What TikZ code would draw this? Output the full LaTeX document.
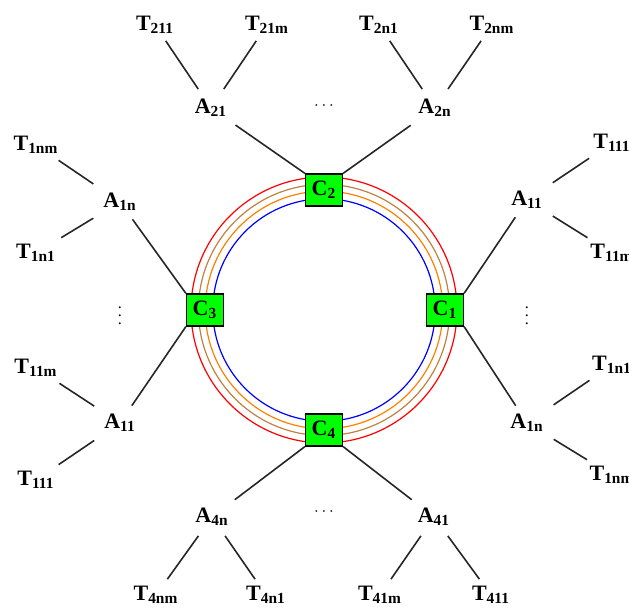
\documentclass[tikz,border=0pt]{standalone}
\usepackage{fontspec}
\setmainfont{Liberation Serif}
\usetikzlibrary{positioning}

\begin{document}
\begin{tikzpicture}[
  x=0.5pt, y=-0.5pt,
  font=\fontsize{11}{13}\selectfont\bfseries,
  ctrl/.style={draw=black, fill=green, minimum width=18.5pt, minimum height=16pt,
    inner sep=0pt, line width=0.6pt},
  agent/.style={inner sep=4pt},
  term/.style={inner sep=2.5pt},
  elide/.style={inner sep=0pt, font=\footnotesize\mdseries},
  link/.style={draw=black!85, line width=0.8pt},
  leaf/.style={draw=black!85, line width=0.8pt, shorten <=1pt, shorten >=1pt},
  ring/.style={line width=0.6pt}
]
\useasboundingbox (0,0) rectangle (629,608);

% --- the four rings round the hub ---
\coordinate (hub) at (324,310);
\draw[ring, red]    (hub) circle[radius=66.5pt];
\draw[ring, brown]  (hub) circle[radius=62.8pt];
\draw[ring, orange] (hub) circle[radius=59.4pt];
\draw[ring, blue]   (hub) circle[radius=55.6pt];

% --- controllers on the rings ---
\node[ctrl] (c1) at (445,310) {C\textsubscript{1}};
\node[ctrl] (c2) at (324,190) {C\textsubscript{2}};
\node[ctrl] (c3) at (205,310) {C\textsubscript{3}};
\node[ctrl] (c4) at (324,430) {C\textsubscript{4}};

% --- agents ---
\node[agent] (a21) at (211,108) {A\textsubscript{21}};
\node[agent] (a2n) at (435,108) {A\textsubscript{2n}};
\node[agent] (a1nl) at (120,202) {A\textsubscript{1n}};
\node[agent] (a11l) at (120,423) {A\textsubscript{11}};
\node[agent] (a11r) at (527,200) {A\textsubscript{11}};
\node[agent] (a1nr) at (527,423) {A\textsubscript{1n}};
\node[agent] (a4n) at (212,517) {A\textsubscript{4n}};
\node[agent] (a41) at (434,517) {A\textsubscript{41}};

% elided agents
\node[elide] (dtop) at (324,106) {$\cdots$};
\node[elide] (dbot) at (324,512) {$\cdots$};
\node[elide] (dleft) at (120,310) {$\vdots$};
\node[elide] (dright) at (527,310) {$\vdots$};

% --- terminals ---
\node[term] (t211) at (155,25) {T\textsubscript{211}};
\node[term] (t21m) at (267,25) {T\textsubscript{21m}};
\node[term] (t2n1) at (379,25) {T\textsubscript{2n1}};
\node[term] (t2nm) at (492,25) {T\textsubscript{2nm}};

\node[term] (t1nml) at (36,145) {T\textsubscript{1nm}};
\node[term] (t1n1l) at (36,253) {T\textsubscript{1n1}};
\node[term] (t11ml) at (36,368) {T\textsubscript{11m}};
\node[term] (t111l) at (36,480) {T\textsubscript{111}};

\node[term] (t111r) at (612,143) {T\textsubscript{111}};
\node[term] (t11mr) at (612,253) {T\textsubscript{11m}};
\node[term] (t1n1r) at (612,365) {T\textsubscript{1n1}};
\node[term] (t1nmr) at (612,475) {T\textsubscript{1nm}};

\node[term] (t4nm) at (156,595) {T\textsubscript{4nm}};
\node[term] (t4n1) at (266,595) {T\textsubscript{4n1}};
\node[term] (t41m) at (380,595) {T\textsubscript{41m}};
\node[term] (t411) at (491,595) {T\textsubscript{411}};

% --- controller to agent ---
\draw[link] (c2.north west) -- (a21);
\draw[link] (c2.north east) -- (a2n);
\draw[link] (c3.north west) -- (a1nl);
\draw[link] (c3.south west) -- (a11l);
\draw[link] (c1.north east) -- (a11r);
\draw[link] (c1.south east) -- (a1nr);
\draw[link] (c4.south west) -- (a4n);
\draw[link] (c4.south east) -- (a41);

% --- agent to terminal ---
\draw[leaf] (a21) -- (t211);
\draw[leaf] (a21) -- (t21m);
\draw[leaf] (a2n) -- (t2n1);
\draw[leaf] (a2n) -- (t2nm);
\draw[leaf] (a1nl) -- (t1nml);
\draw[leaf] (a1nl) -- (t1n1l);
\draw[leaf] (a11l) -- (t11ml);
\draw[leaf] (a11l) -- (t111l);
\draw[leaf] (a11r) -- (t111r);
\draw[leaf] (a11r) -- (t11mr);
\draw[leaf] (a1nr) -- (t1n1r);
\draw[leaf] (a1nr) -- (t1nmr);
\draw[leaf] (a4n) -- (t4nm);
\draw[leaf] (a4n) -- (t4n1);
\draw[leaf] (a41) -- (t41m);
\draw[leaf] (a41) -- (t411);

\end{tikzpicture}
\end{document}
